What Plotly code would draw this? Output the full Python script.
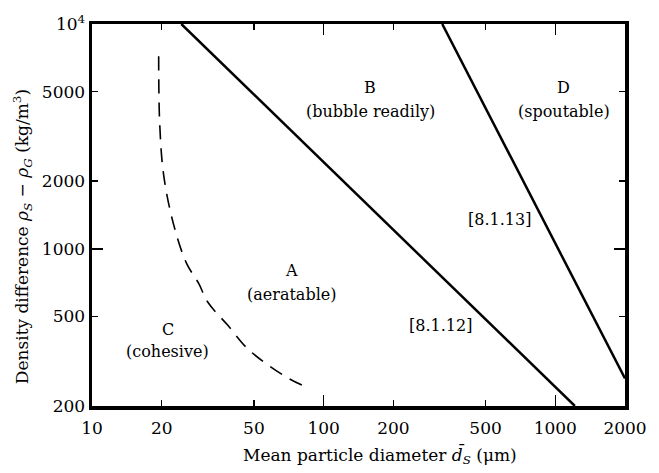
import plotly.graph_objects as go
import math

# Boundary A/B  [8.1.12]
ab_d = [24.3, 1215]
ab_rho = [10000, 200]
# Boundary B/D  [8.1.13]
bd_d = [325, 2000]
bd_rho = [10000, 265]
# Boundary C/A (dashed)
ca_d = [19.4, 19.6, 20.4, 22.5, 25.6, 28.8, 31.7, 38.5, 46.8, 56.9, 71.2, 87.0]
ca_rho = [7190, 3610, 2120, 1285, 861, 705, 577, 458, 361, 307, 264, 239]

x_ticks = [10, 20, 50, 100, 200, 500, 1000, 2000]
x_ticktext = ["10", "20", "50", "100", "200", "500", "1000", "2000"]
x_decades = [100, 1000]
y_ticks = [200, 500, 1000, 2000, 5000, 10000]
y_ticktext = ["200", "500", "1000", "2000", "5000", "10<sup>4</sup>"]
y_decades = [1000]

region_labels = [
    ("B", 159, 5214), ("(bubble readily)", 159, 4064),
    ("D", 1089, 5214), ("(spoutable)", 1089, 4064),
    ("A", 72.8, 801), ("(aeratable)", 72.8, 626),
    ("C", 21.2, 440), ("(cohesive)", 21.2, 349),
    ("[8.1.13]", 577, 1349), ("[8.1.12]", 321, 458),
]

FONT = "DejaVu Serif"
X_RANGE = [1, math.log10(2000)]
Y_RANGE = [math.log10(200), 4]

fig = go.Figure()
fig.add_trace(go.Scatter(x=ab_d, y=ab_rho, mode="lines",
                         line=dict(color="black", width=2.5), hoverinfo="skip"))
fig.add_trace(go.Scatter(x=bd_d, y=bd_rho, mode="lines",
                         line=dict(color="black", width=2.5), hoverinfo="skip"))
fig.add_trace(go.Scatter(x=ca_d, y=ca_rho, mode="lines", line_shape="spline",
                         line=dict(color="black", width=1.6, dash="14px,9px"),
                         hoverinfo="skip"))
# empty trace on the overlay axes (carries the longer decade ticks)
fig.add_trace(go.Scatter(x=[None], y=[None], xaxis="x2", yaxis="y2",
                         mode="lines", hoverinfo="skip", showlegend=False))

for text, xv, yv in region_labels:
    fig.add_annotation(x=math.log10(xv), y=math.log10(yv), text=text,
                       showarrow=False, font=dict(family=FONT, size=16, color="black"))

# axis titles as annotations for exact placement
fig.add_annotation(xref="paper", yref="paper", x=0.541, y=0, yshift=-49,
                   xanchor="center", yanchor="middle", showarrow=False,
                   text="Mean particle diameter <i>d\u0304<sub>S</sub></i> (\u03bcm)",
                   font=dict(family=FONT, size=17, color="black"))
fig.add_annotation(xref="paper", yref="paper", x=0, xshift=-70, y=0.442,
                   xanchor="center", yanchor="middle", showarrow=False, textangle=-90,
                   text="Density difference <i>\u03c1<sub>S</sub></i> \u2212 <i>\u03c1<sub>G</sub></i> (kg/m<sup>3</sup>)",
                   font=dict(family=FONT, size=17, color="black"))

fig.update_layout(
    width=659, height=473,
    margin=dict(l=92, r=26, t=15, b=67),
    plot_bgcolor="white", paper_bgcolor="white",
    showlegend=False,
    font=dict(family=FONT, size=17, color="black"),
    xaxis=dict(
        type="log", range=X_RANGE,
        tickvals=x_ticks, ticktext=x_ticktext,
        ticks="inside", ticklen=6, tickwidth=1.5, tickcolor="black",
        showline=True, linewidth=3.5, linecolor="black", mirror="allticks",
        showgrid=False, zeroline=False,
        tickfont=dict(family=FONT, size=17), ticklabelstandoff=4,
    ),
    yaxis=dict(
        type="log", range=Y_RANGE,
        tickvals=y_ticks, ticktext=y_ticktext,
        ticks="inside", ticklen=6, tickwidth=1.5, tickcolor="black",
        showline=True, linewidth=3.5, linecolor="black", mirror="allticks",
        showgrid=False, zeroline=False,
        tickfont=dict(family=FONT, size=17),
    ),
    xaxis2=dict(
        type="log", range=X_RANGE, overlaying="x", anchor="y",
        tickvals=x_decades, ticks="inside", ticklen=11, tickwidth=1.5,
        tickcolor="black", showticklabels=False, mirror="allticks",
        showline=False, showgrid=False, zeroline=False,
    ),
    yaxis2=dict(
        type="log", range=Y_RANGE, overlaying="y", anchor="x",
        tickvals=y_decades, ticks="inside", ticklen=11, tickwidth=1.5,
        tickcolor="black", showticklabels=False, mirror="allticks",
        showline=False, showgrid=False, zeroline=False,
    ),
)

fig.write_html("out.html",
               config={"displayModeBar": False, "staticPlot": True},
               post_script="document.body.style.margin='0';document.body.style.padding='0';")
